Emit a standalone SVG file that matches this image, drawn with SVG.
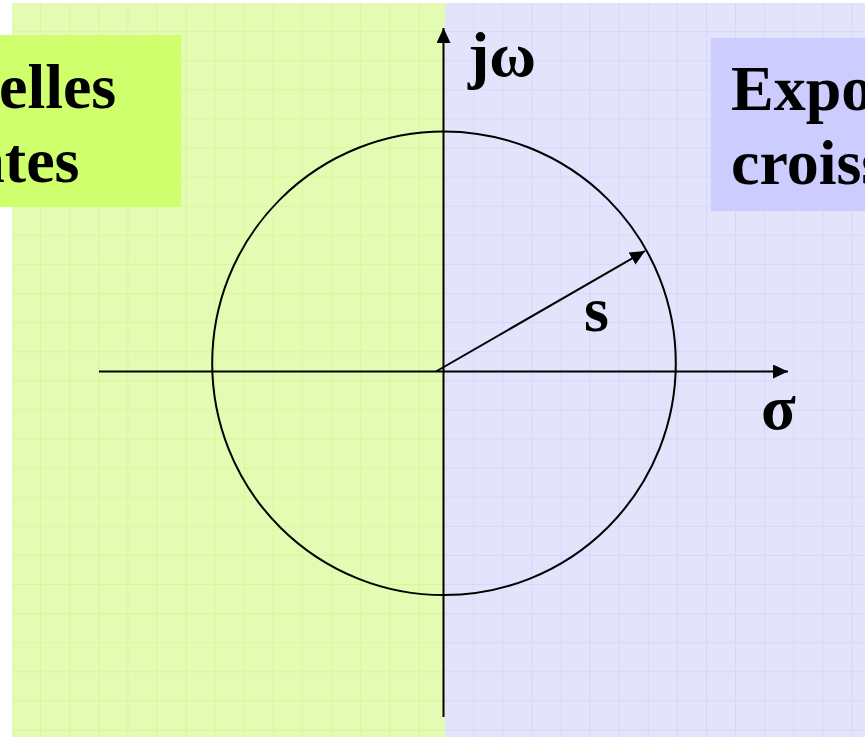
<svg xmlns="http://www.w3.org/2000/svg" width="865" height="737" viewBox="0 0 865 737">
  <style>
    .lbl { font-family: "Liberation Serif", "Times New Roman", serif; font-weight: bold; font-size: 64px; fill: #000; }
    .ax { stroke: #000; stroke-width: 2; fill: none; }
  </style>
  <defs>
    <pattern id="gridG" patternUnits="userSpaceOnUse" x="12" y="3" width="29.1" height="29.1">
      <rect width="29.1" height="29.1" fill="#E4FBB3"/>
      <path d="M29.1 0V29.1M0 29.1H29.1" stroke="#D4F88E" stroke-width="1.5" fill="none"/>
    </pattern>
    <pattern id="gridB" patternUnits="userSpaceOnUse" x="445" y="3" width="29.1" height="29.1">
      <rect width="29.1" height="29.1" fill="#E3E3FC"/>
      <path d="M29.1 0V29.1M0 29.1H29.1" stroke="#D3D3F9" stroke-width="1.5" fill="none"/>
    </pattern>
    <marker id="arr" markerUnits="userSpaceOnUse" markerWidth="16" markerHeight="14" refX="15" refY="7" orient="auto">
      <path d="M0 0L15 7L0 14z" fill="#000"/>
    </marker>
  </defs>
  <rect width="865" height="737" fill="#FFFFFF"/>
  <g id="background">
    <rect x="12" y="3" width="433" height="734" fill="url(#gridG)"/>
    <rect x="445" y="3" width="420" height="734" fill="url(#gridB)"/>
  </g>
  <g id="label-left">
    <rect x="0" y="35" width="181" height="172" fill="#CFFF6C"/>
    <text class="lbl" x="-282" y="107.5">Exponentielles</text>
    <text class="lbl" x="-282" y="181.5">décroissantes</text>
  </g>
  <g id="label-right">
    <rect x="711" y="38" width="154" height="173" fill="#CCCCFF"/>
    <text class="lbl" x="731" y="110">Exponentielles</text>
    <text class="lbl" x="731" y="183.5">croissantes</text>
  </g>
  <g id="circle">
    <circle cx="444" cy="363.3" r="231.8" class="ax"/>
  </g>
  <g id="connectors">
    <line x1="99" y1="371.5" x2="788" y2="371.5" class="ax" marker-end="url(#arr)"/>
    <line x1="443.5" y1="717" x2="443.5" y2="28" class="ax" marker-end="url(#arr)"/>
    <line x1="436" y1="371.5" x2="645" y2="251" class="ax" marker-end="url(#arr)"/>
  </g>
  <g id="axis-labels">
    <text class="lbl" x="468" y="76">jω</text>
    <text class="lbl" x="584" y="331">s</text>
    <text class="lbl" x="761" y="429">σ</text>
  </g>
</svg>
